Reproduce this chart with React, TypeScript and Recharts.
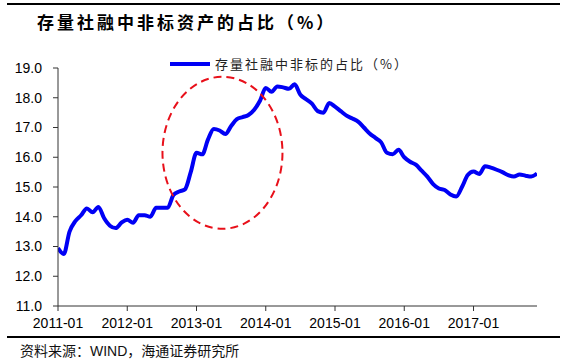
import React from "react";
import { LineChart, Line, XAxis, YAxis, ReferenceDot } from "recharts";

const years = ["2011", "2012", "2013", "2014", "2015", "2016", "2017"];
const months = years.flatMap((y) =>
  ["01", "02", "03", "04", "05", "06", "07", "08", "09", "10", "11", "12"].map((m) => `${y}-${m}`)
);
const values = [
  12.95, 12.75, 13.5, 13.85, 14.05, 14.28, 14.15, 14.33, 13.95, 13.7, 13.62, 13.8,
  13.9, 13.8, 14.05, 14.05, 14.0, 14.3, 14.3, 14.3, 14.73, 14.85, 14.92, 15.5,
  16.15, 16.1, 16.6, 16.95, 16.9, 16.78, 17.05, 17.28, 17.35, 17.42, 17.6, 17.9,
  18.33, 18.2, 18.38, 18.35, 18.3, 18.45, 18.1, 17.95, 17.8, 17.55, 17.5, 17.82,
  17.7, 17.55, 17.4, 17.3, 17.2, 17.0, 16.8, 16.65, 16.5, 16.15, 16.1, 16.25,
  16.0, 15.85, 15.75, 15.55, 15.35, 15.1, 14.95, 14.9, 14.75, 14.68, 15.0, 15.4,
  15.52, 15.44, 15.7, 15.65, 15.58, 15.5, 15.4, 15.35, 15.42, 15.38, 15.35, 15.45,
];
const xTickLabels = ["2011-01", "2012-01", "2013-01", "2014-01", "2015-01", "2016-01", "2017-01"];
const yTicks = [11, 12, 13, 14, 15, 16, 17, 18, 19];
const seriesName = "存量社融中非标的占比（%）";
const title = "存量社融中非标资产的占比（%）";
const source = "资料来源：WIND，海通证券研究所";
// highlight ellipse centre (month index, value)
const highlight = { x: 28.5, y: 16.15 };

const data = months.map((m, i) => ({ i, month: m, v: values[i] }));
const xTicks = xTickLabels.map((l) => months.indexOf(l));

const BLUE = "#0000F5";
const AXIS = "#333";

const Ellipse = (props: any) => {
  const { cx, cy } = props;
  if (cx == null || cy == null) return null;
  return (
    <ellipse
      cx={cx}
      cy={cy}
      rx={60}
      ry={76}
      fill="none"
      stroke="#E8101A"
      strokeWidth={2}
      strokeDasharray="8 5"
    />
  );
};

export default function App() {
  return (
    <div style={{ position: "absolute", left: 0, top: 0, width: 567, height: 363, background: "#fff" }}>
      <div style={{ position: "absolute", left: 7, top: 3, width: 553, height: 2, background: "#000" }} />
      <div
        style={{
          position: "absolute",
          left: 37,
          top: 11,
          fontFamily: "'Noto Sans CJK SC', sans-serif",
          fontWeight: 700,
          fontSize: 17,
          letterSpacing: 3,
          lineHeight: "22px",
          color: "#000",
          whiteSpace: "nowrap",
        }}
      >
        {title}
      </div>
      <div style={{ position: "absolute", left: 0, top: 0 }}>
        <LineChart
          width={567}
          height={363}
          data={data}
          margin={{ top: 68, right: 30, left: 0, bottom: 27 }}
        >
          <XAxis
            type="number"
            dataKey="i"
            domain={[0, 83]}
            ticks={xTicks}
            tickFormatter={(v: number) => months[v]}
            interval={0}
            height={30}
            tickSize={5}
            tickMargin={7}
            stroke={AXIS}
            tick={{ fill: "#000", fontSize: 14, fontFamily: "'Liberation Sans', Arial, sans-serif" }}
            allowDataOverflow
          />
          <YAxis
            type="number"
            domain={[11, 19]}
            ticks={yTicks}
            interval={0}
            width={58}
            tickSize={5}
            tickMargin={11}
            stroke={AXIS}
            tickFormatter={(v: number) => v.toFixed(1)}
            tick={{ fill: "#000", fontSize: 14, fontFamily: "'Liberation Sans', Arial, sans-serif" }}
          />
          <Line
            type="monotone"
            dataKey="v"
            name={seriesName}
            stroke={BLUE}
            strokeWidth={4}
            dot={false}
            isAnimationActive={false}
          />
          <ReferenceDot x={highlight.x} y={highlight.y} shape={<Ellipse />} ifOverflow="visible" />
        </LineChart>
      </div>
      <div style={{ position: "absolute", left: 170, top: 56, display: "flex", alignItems: "center" }}>
        <svg width={45} height={10}>
          <line x1={0} y1={5} x2={40} y2={5} stroke={BLUE} strokeWidth={4} />
        </svg>
        <span
          style={{
            fontFamily: "'Noto Sans CJK SC', sans-serif",
            fontSize: 13,
            letterSpacing: 2,
            color: "#222",
            lineHeight: "16px",
          }}
        >
          {seriesName}
        </span>
      </div>
      <div style={{ position: "absolute", left: 7, top: 336, width: 553, height: 2, background: "#000" }} />
      <div
        style={{
          position: "absolute",
          left: 20,
          top: 341,
          fontFamily: "'Liberation Sans', 'Noto Sans CJK SC', sans-serif",
          fontSize: 14,
          lineHeight: "20px",
          color: "#111",
          whiteSpace: "nowrap",
        }}
      >
        {source}
      </div>
    </div>
  );
}
